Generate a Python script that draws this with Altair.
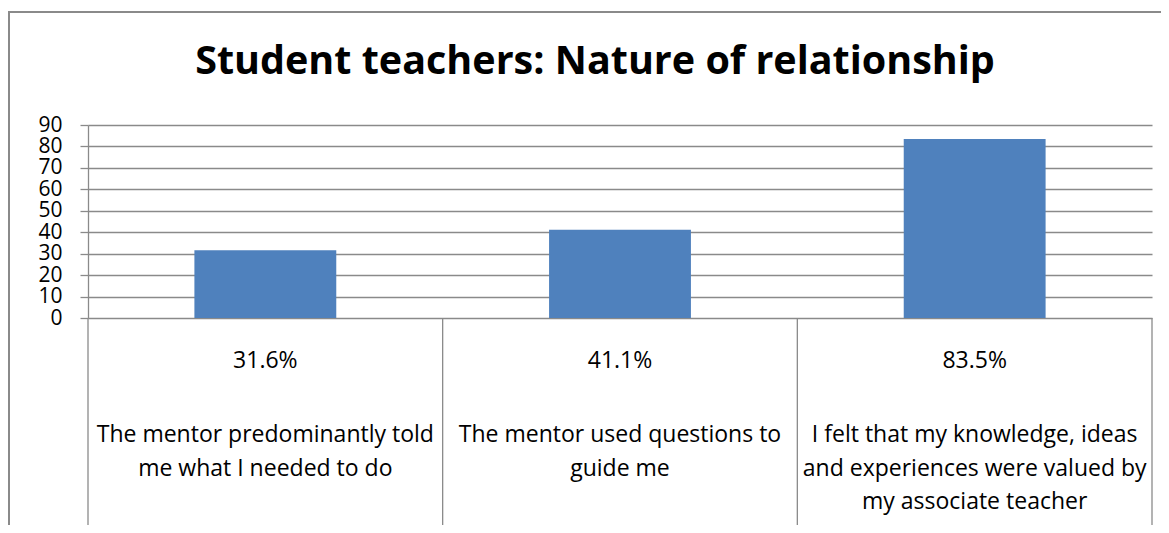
import altair as alt
import pandas as pd

# ---- data ----
title_text = "Student teachers: Nature of relationship"
categories = [
    "The mentor predominantly told\nme what I needed to do",
    "The mentor used questions to\nguide me",
    "I felt that my knowledge, ideas\nand experiences were valued by\nmy associate teacher",
]
values = [31.6, 41.1, 83.5]
y_ticks = [0, 10, 20, 30, 40, 50, 60, 70, 80, 90]
boundaries = [0, 1, 2, 3]

# ---- layout / style ----
FONT = "Open Sans"
W, H = 1064, 400          # plot area incl. data-table region below the axis
BAR_H = 193               # pixel height of the 0..90 value range
GREY = "#8a8a8a"
BLUE = "#4F81BD"

df = pd.DataFrame({"cat": categories, "value": values})

x_band = alt.X("cat:N", sort=categories, axis=None,
               scale=alt.Scale(paddingInner=0.6, paddingOuter=0.3))

bars = alt.Chart(df).mark_bar(color=BLUE).encode(
    x=x_band,
    y=alt.Y("value:Q",
            scale=alt.Scale(domain=[0, 90], range=[BAR_H, 0]),
            axis=alt.Axis(values=y_ticks, title=None, grid=True,
                          gridColor=GREY, gridWidth=1.3,
                          domainColor=GREY, domainWidth=1.3,
                          tickColor=GREY, tickWidth=1.3, tickSize=8,
                          labelPadding=18, labelFont=FONT, labelFontSize=21,
                          labelColor="black", labelOverlap=False,
                          labelFlush=False)),
)

pct = alt.Chart(df).transform_calculate(
    label="format(datum.value, '.1f') + '%'"
).mark_text(font=FONT, fontSize=23, color="black", align="center",
            baseline="alphabetic").encode(
    x=x_band,
    y=alt.value(243),
    text="label:N",
)

cat_text = alt.Chart(df).mark_text(
    font=FONT, fontSize=23, color="black", align="center",
    baseline="alphabetic", lineBreak="\n", lineHeight=33.5
).encode(
    x=x_band,
    y=alt.value(317),
    text="cat:N",
)

seps = alt.Chart(pd.DataFrame({"b": boundaries})).mark_rule(
    color=GREY, strokeWidth=1.3
).encode(
    x=alt.X("b:Q", scale=alt.Scale(domain=[0, 3]), axis=None),
    y=alt.datum(0),
    y2=alt.value(H + 20),
)

frame = alt.Chart(pd.DataFrame({"k": [0]})).mark_rect(
    fill="transparent", stroke=GREY, strokeWidth=2
).encode(
    x=alt.value(-79), x2=alt.value(1100),
    y=alt.value(-113), y2=alt.value(H + 30),
)

chart = alt.layer(frame, bars, seps, pct, cat_text).resolve_scale(
    x="independent"
).properties(
    width=W, height=H,
    title=alt.TitleParams(title_text, font=FONT, fontSize=39.5,
                          fontWeight="bold", color="black",
                          anchor="middle", frame="group",
                          baseline="alphabetic", offset=0, dy=102, dx=-25),
    padding={"left": 80, "top": 117, "right": 9, "bottom": 0},
    autosize=alt.AutoSizeParams(type="none"),
).configure_view(stroke="transparent")

chart.save("out.html", embed_options={"renderer": "svg", "actions": False})
